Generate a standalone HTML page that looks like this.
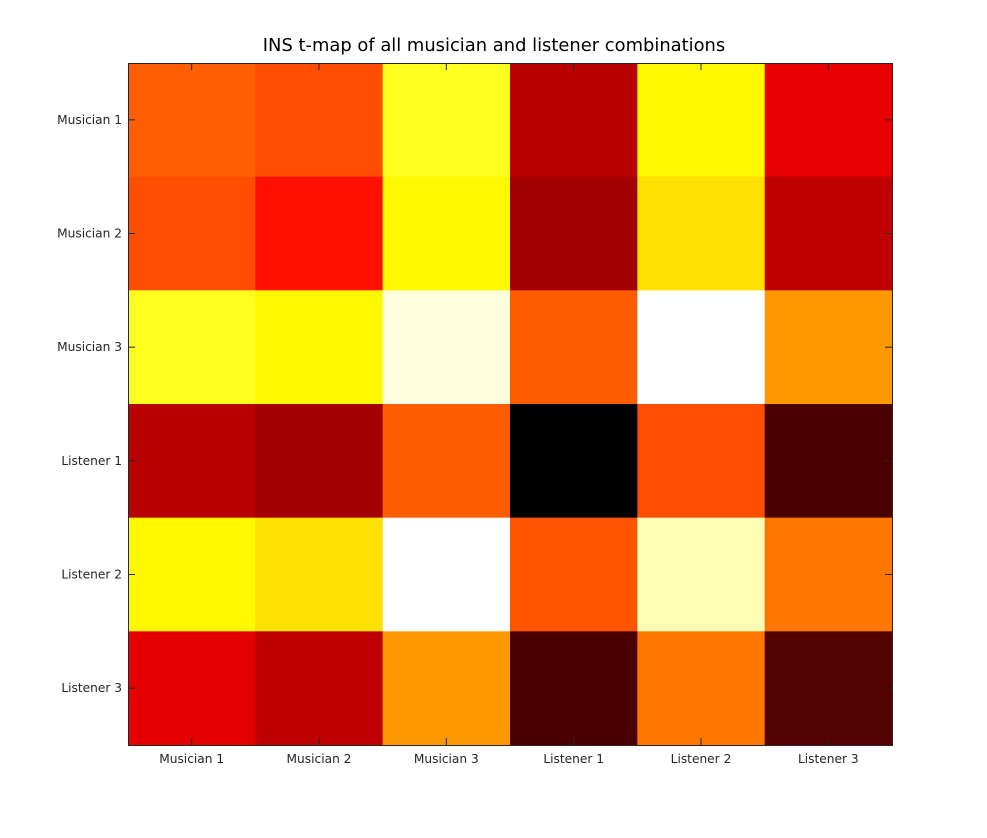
<!DOCTYPE html>
<html><head><meta charset="utf-8"><style>
body{margin:0;background:#fff;}
svg{display:block;font-family:"DejaVu Sans","Liberation Sans",sans-serif;}
</style></head><body>
<svg id="chart" width="987" height="838">
<text x="494" y="51" text-anchor="middle" font-size="17.9" fill="#000">INS t-map of all musician and listener combinations</text>
<g id="cells"></g>
<g id="ticks"></g>
<rect x="128.5" y="63.5" width="764" height="682" fill="none" stroke="#262626" stroke-width="1"/>
</svg>
<script>
const rowLabels=["Musician 1","Musician 2","Musician 3","Listener 1","Listener 2","Listener 3"];
const colLabels=["Musician 1","Musician 2","Musician 3","Listener 1","Listener 2","Listener 3"];
const row1=[0.514,0.49,0.78,0.27,0.74,0.34];
const row2=[0.49,0.40,0.74,0.24,0.705,0.28];
const row3=[0.78,0.74,0.965,0.51,1.0,0.60];
const row4=[0.27,0.24,0.51,0.0,0.49,0.11];
const row5=[0.74,0.705,1.0,0.50,0.93,0.55];
const row6=[0.335,0.28,0.60,0.11,0.55,0.12];
const values=[row1,row2,row3,row4,row5,row6];
const L=128,T=63,W=764,H=682;
const cw=W/colLabels.length, rh=H/rowLabels.length;
const xPos=i=>L+i*cw, yPos=j=>T+j*rh;
function hot(t){
  const c=v=>Math.round(255*Math.max(0,Math.min(1,v)));
  return `rgb(${c(t/0.375)},${c((t-0.375)/0.375)},${c((t-0.75)/0.25)})`;
}
const NS="http://www.w3.org/2000/svg";
const cells=document.getElementById('cells');
values.forEach((row,j)=>row.forEach((v,i)=>{
  const r=document.createElementNS(NS,'rect');
  r.setAttribute('x',xPos(i));r.setAttribute('y',yPos(j));
  r.setAttribute('width',cw+0.6);r.setAttribute('height',rh+0.6);
  r.setAttribute('fill',hot(v));
  
  
  cells.appendChild(r);
}));
const tk=document.getElementById('ticks');
function line(x1,y1,x2,y2){const l=document.createElementNS(NS,'line');
  l.setAttribute('x1',x1);l.setAttribute('y1',y1);l.setAttribute('x2',x2);l.setAttribute('y2',y2);
  l.setAttribute('stroke','#262626');
  
  
  tk.appendChild(l);}
rowLabels.forEach((s,j)=>{
  const y=yPos(j)+rh/2;
  line(L,y,L+7,y);line(L+W-7,y,L+W,y);
  const t=document.createElementNS(NS,'text');
  t.setAttribute('x',L-6);t.setAttribute('y',y+4);t.setAttribute('text-anchor','end');
  t.setAttribute('font-size','12.2');t.setAttribute('fill','#262626');t.textContent=s;
  
  
  tk.appendChild(t);
});
colLabels.forEach((s,i)=>{
  const x=xPos(i)+cw/2;
  line(x,T+H,x,T+H-7);line(x,T,x,T+7);
  const t=document.createElementNS(NS,'text');
  t.setAttribute('x',x);t.setAttribute('y',T+H+18);t.setAttribute('text-anchor','middle');
  t.setAttribute('font-size','12.2');t.setAttribute('fill','#262626');t.textContent=s;
  
  
  tk.appendChild(t);
});
</script>
</body></html>
